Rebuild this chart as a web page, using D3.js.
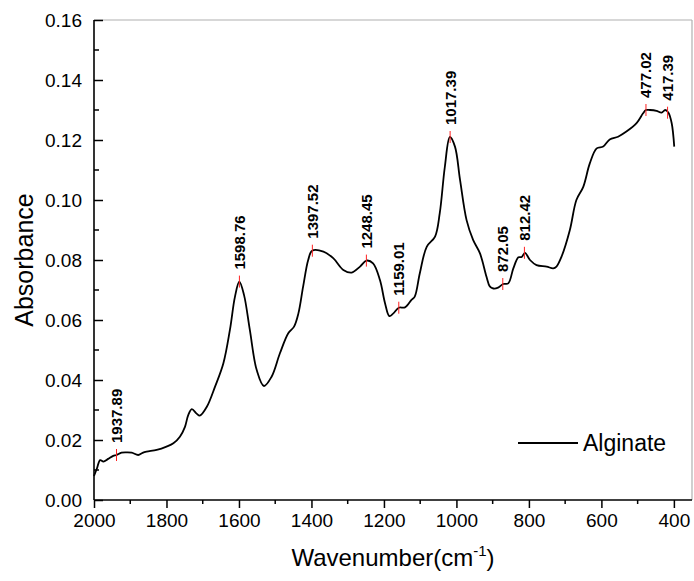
<!DOCTYPE html>
<html>
<head>
<meta charset="utf-8">
<script src="https://cdn.jsdelivr.net/npm/d3@7"></script>
<style>
  html, body { margin: 0; padding: 0; background: #fff; overflow: hidden; }
  svg { display: block; }
  text { font-family: "Liberation Sans", Arial, sans-serif; fill: #000; }
</style>
</head>
<body>
<div id="chart"></div>
<script>
// spectrum (wavenumber, absorbance)
const wavenumbers = [2000, 1992, 1983, 1974, 1961, 1947, 1938, 1924, 1910, 1896, 1878, 1866, 1855, 1827, 1800,
  1781, 1763, 1749, 1740, 1730, 1717, 1708, 1689, 1666, 1643, 1625, 1611, 1599, 1586, 1570,
  1551, 1531, 1510, 1487, 1464, 1448, 1436, 1423, 1409, 1398, 1367, 1340, 1312, 1289, 1266,
  1248, 1230, 1211, 1197, 1185, 1174, 1159, 1142, 1124, 1115, 1101, 1082, 1059, 1046, 1032,
  1018, 1004, 990, 972, 954, 935, 917, 908, 898, 885, 871, 857, 843, 829, 820,
  811, 797, 779, 751, 733, 724, 710, 687, 669, 650, 632, 613, 595, 577, 554,
  531, 503, 485, 477, 466, 448, 434, 424, 415, 406, 399];
const absorbance = [0.0080, 0.0105, 0.0133, 0.0128, 0.0137, 0.0147, 0.0150, 0.0158, 0.0159, 0.0158, 0.0150, 0.0157, 0.0161, 0.0167, 0.0178,
  0.0189, 0.0211, 0.0244, 0.0283, 0.0303, 0.0288, 0.0281, 0.0310, 0.0378, 0.0456, 0.0567, 0.0678, 0.0728, 0.0683, 0.0567,
  0.0433, 0.0380, 0.0411, 0.0489, 0.0556, 0.0578, 0.0622, 0.0711, 0.0800, 0.0831, 0.0828, 0.0806, 0.0767, 0.0758, 0.0778,
  0.0798, 0.0789, 0.0733, 0.0656, 0.0613, 0.0622, 0.0641, 0.0642, 0.0667, 0.0678, 0.0756, 0.0844, 0.0878, 0.0956, 0.1110,
  0.1210, 0.1178, 0.1067, 0.0933, 0.0867, 0.0822, 0.0744, 0.0712, 0.0705, 0.0708, 0.0720, 0.0722, 0.0772, 0.0809, 0.0810,
  0.0824, 0.0800, 0.0783, 0.0778, 0.0772, 0.0778, 0.0811, 0.0900, 0.1000, 0.1044, 0.1122, 0.1172, 0.1178, 0.1202, 0.1211,
  0.1228, 0.1256, 0.1289, 0.1300, 0.1300, 0.1297, 0.1291, 0.1300, 0.1291, 0.1256, 0.1178];

const peakLabels = ["1937.89", "1598.76", "1397.52", "1248.45", "1159.01", "1017.39", "872.05", "812.42", "477.02", "417.39"];
const peakValues = [0.0150, 0.0728, 0.0831, 0.0798, 0.0641, 0.1210, 0.0720, 0.0824, 0.1300, 0.1291];

const xTicks = [2000, 1800, 1600, 1400, 1200, 1000, 800, 600, 400];
const yTicks = [0, 0.02, 0.04, 0.06, 0.08, 0.10, 0.12, 0.14, 0.16];
const seriesName = "Alginate";

const width = 694, height = 581;
const margin = { top: 20, right: 2, bottom: 81, left: 94 };
const innerWidth = width - margin.left - margin.right;
const innerHeight = height - margin.top - margin.bottom;

const xScale = d3.scaleLinear().domain([2000, 350]).range([0, innerWidth]);
const yScale = d3.scaleLinear().domain([0, 0.16]).range([innerHeight, 0]);

const svg = d3.select("#chart").append("svg")
    .attr("width", width)
    .attr("height", height);

const g = svg.append("g").attr("transform", `translate(${margin.left}, ${margin.top})`);

// top / right frame
g.append("line").attr("x1", 0).attr("x2", innerWidth).attr("y1", 0).attr("y2", 0)
    .attr("stroke", "#b0b0b0").attr("stroke-width", 1.2);
g.append("line").attr("x1", innerWidth).attr("x2", innerWidth).attr("y1", 0).attr("y2", innerHeight)
    .attr("stroke", "#b0b0b0").attr("stroke-width", 1.2);

// minor ticks
const xMinor = d3.range(1900, 350, -200);
g.append("g").selectAll("line").data(xMinor).join("line")
    .attr("x1", d => xScale(d)).attr("x2", d => xScale(d))
    .attr("y1", innerHeight).attr("y2", innerHeight + 4)
    .attr("stroke", "#000").attr("stroke-width", 1.5);
const yMinor = d3.range(0.01, 0.16, 0.02);
g.append("g").selectAll("line").data(yMinor).join("line")
    .attr("x1", 0).attr("x2", 5)
    .attr("y1", d => yScale(d)).attr("y2", d => yScale(d))
    .attr("stroke", "#000").attr("stroke-width", 1.5);

const xAxis = d3.axisBottom(xScale).tickValues(xTicks).tickSize(8).tickPadding(6).tickFormat(d3.format("d"));
const yAxis = d3.axisLeft(yScale).tickValues(yTicks).tickSize(-9).tickPadding(12).tickFormat(d3.format(".2f"));

const gx = g.append("g").attr("transform", `translate(0, ${innerHeight})`).call(xAxis);
const gy = g.append("g").call(yAxis);

[gx, gy].forEach(a => {
  a.select(".domain").attr("stroke", "#000").attr("stroke-width", 1.6);
  a.selectAll(".tick line").attr("stroke", "#000").attr("stroke-width", 1.5);
  a.selectAll(".tick text").attr("font-size", 19).attr("fill", "#000")
      .attr("font-family", "Liberation Sans, Arial, sans-serif");
});
gx.select(".domain").attr("d", `M0,0H${innerWidth}`);
gy.select(".domain").attr("d", `M0,0V${innerHeight}`);

// spectrum
const data = wavenumbers.map((w, i) => ({ x: w, y: absorbance[i] }));
const line = d3.line()
    .x(d => xScale(d.x))
    .y(d => yScale(d.y))
    .curve(d3.curveCatmullRom.alpha(0.5));

g.append("path")
    .datum(data)
    .attr("fill", "none")
    .attr("stroke", "#000")
    .attr("stroke-width", 1.8)
    .attr("d", line);

// peak marks
const peaks = peakLabels.map((l, i) => ({ x: +l, y: peakValues[i], label: l }));
const pk = g.append("g").selectAll("g").data(peaks).join("g")
    .attr("transform", d => `translate(${xScale(d.x)}, ${yScale(d.y)})`);
pk.append("line").attr("x1", 0).attr("x2", 0).attr("y1", -6).attr("y2", 6)
    .attr("stroke", "#ff2020").attr("stroke-width", 1);
pk.append("text")
    .attr("transform", "rotate(-90)")
    .attr("x", 12)
    .attr("dy", "0.36em")
    .attr("font-size", 15)
    .attr("font-weight", "bold")
    .text(d => d.label);

// legend
const lg = g.append("g").attr("transform", `translate(${518 - margin.left}, ${443 - margin.top})`);
lg.append("line").attr("x1", 0).attr("x2", 60).attr("stroke", "#000").attr("stroke-width", 1.8);
lg.append("text").attr("x", 65).attr("dy", "0.36em").attr("font-size", 23).text(seriesName);

// axis titles
const xt = svg.append("text")
    .attr("x", margin.left + innerWidth / 2)
    .attr("y", 566)
    .attr("text-anchor", "middle")
    .attr("font-size", 24);
xt.append("tspan").text("Wavenumber(cm");
xt.append("tspan").attr("font-size", 15).attr("dy", -10).text("-1");
xt.append("tspan").attr("dy", 10).text(")");

svg.append("text")
    .attr("transform", `translate(33, ${margin.top + innerHeight / 2}) rotate(-90)`)
    .attr("text-anchor", "middle")
    .attr("font-size", 25)
    .text("Absorbance");
</script>
</body>
</html>
